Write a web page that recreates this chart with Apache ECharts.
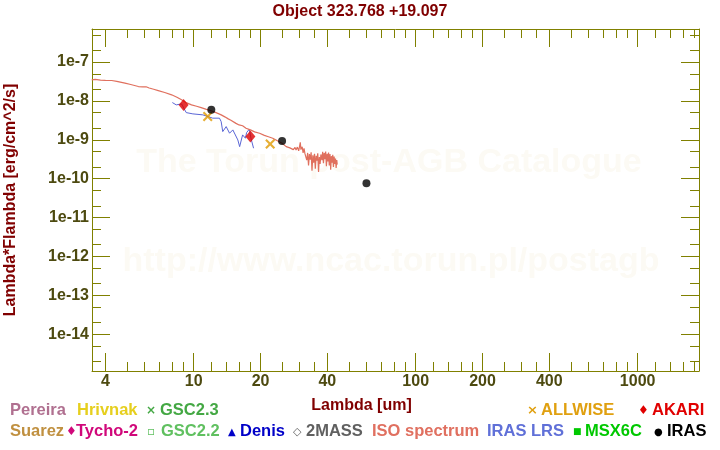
<!DOCTYPE html>
<html><head><meta charset="utf-8">
<script src="https://cdn.jsdelivr.net/npm/echarts@6/dist/echarts.min.js"></script>
<style>html,body{margin:0;padding:0;background:#fff}#c{width:720px;height:450px}</style>
</head><body><div id="c"></div>
<script>
// ---------- texts ----------
const titleText = 'Object 323.768 +19.097';
const xAxisName = 'Lambda [um]';
const yAxisName = 'Lambda*Flambda [erg/cm^2/s]';
const watermarkLines = ['The Torun post-AGB Catalogue', 'http://www.ncac.torun.pl/postagb'];
const legendRow1 = ['Pereira', 'Hrivnak', 'GSC2.3', 'ALLWISE', 'AKARI'];
const legendRow2 = ['Suarez', 'Tycho-2', 'GSC2.2', 'Denis', '2MASS', 'ISO spectrum', 'IRAS LRS', 'MSX6C', 'IRAS'];

// ---------- axes ----------
const xRange = [3.48, 1890];
const yRange = [1.13e-15, 7.1e-7];
const xMajorTicks = [4, 10, 20, 40, 100, 200, 400, 1000];
const xMinorTicks = [5, 6, 7, 8, 9, 12, 14, 16, 18, 25, 30, 35, 50, 60, 70, 80, 90,
  120, 140, 160, 180, 250, 300, 350, 500, 600, 700, 800, 900, 1200, 1400, 1600, 1800];
const yMajorTicks = [1e-14, 1e-13, 1e-12, 1e-11, 1e-10, 1e-9, 1e-8, 1e-7];
const yMinorTicks = [2e-15, 5e-15, 2e-14, 5e-14, 2e-13, 5e-13, 2e-12, 5e-12, 2e-11, 5e-11,
  2e-10, 5e-10, 2e-9, 5e-9, 2e-8, 5e-8, 2e-7, 5e-7];

// ---------- data ----------
const isoWave = [3.47, 3.6, 3.8, 4.0, 4.27, 4.5, 4.9, 5.2, 5.63, 5.9, 6.1, 6.3, 6.6, 6.92, 7.4, 7.95,
  8.4, 8.81, 9.3, 9.77, 10.3, 10.8, 11.4, 12.0, 12.6, 13.3, 13.8, 14.3, 14.7, 15.0, 15.5, 16.0,
  16.6, 17.2, 18.0, 18.8, 19.8, 20.8, 21.7, 22.7, 23.7, 25.0, 26.1, 26.6, 27.1, 27.6, 28.1, 28.6,
  28.9, 29.3, 29.7, 30.0, 30.2, 30.4, 30.8, 31.1, 31.4, 31.7, 32.0, 32.3, 32.6, 32.9, 33.2, 33.5,
  33.8, 34.1, 34.4, 34.7, 35.0, 35.3, 35.6, 35.9, 36.2, 36.5, 36.8, 37.1, 37.4, 37.8, 38.1, 38.4,
  38.7, 39.0, 39.3, 39.6, 39.9, 40.2, 40.5, 40.8, 41.1, 41.4, 41.7, 42.0, 42.3, 42.6, 42.9, 43.2,
  43.5, 43.8, 44.1, 44.3];
const isoFlux = [3.50e-8, 3.58e-8, 3.45e-8, 3.40e-8, 3.36e-8, 3.2e-8, 2.88e-8, 2.65e-8, 2.35e-8, 2.3e-8,
  2.32e-8, 2.15e-8, 2.0e-8, 1.85e-8, 1.65e-8, 1.44e-8, 1.25e-8, 1.07e-8, 8.9e-9, 7.94e-9, 7.3e-9,
  6.76e-9, 6.1e-9, 5.56e-9, 5.0e-9, 4.39e-9, 3.9e-9, 3.46e-9, 3.2e-9, 2.95e-9, 2.65e-9, 2.42e-9,
  2.3e-9, 1.99e-9, 1.8e-9, 1.6e-9, 1.48e-9, 1.3e-9, 1.2e-9, 1.10e-9, 9.6e-10, 8.2e-10, 6.7e-10,
  7.2e-10, 6.2e-10, 6.8e-10, 5.6e-10, 6.4e-10, 5.5e-10, 6.5e-10, 5.2e-10, 7.0e-10, 8.6e-10, 5.6e-10,
  6.6e-10, 4.6e-10, 6.0e-10, 4.4e-10, 4.1e-10, 3.0e-10, 4.6e-10, 2.2e-10, 4.3e-10, 3.1e-10, 4.8e-10,
  1.6e-10, 4.0e-10, 2.6e-10, 4.4e-10, 1.8e-10, 3.9e-10, 2.9e-10, 4.5e-10, 1.5e-10, 3.6e-10, 2.4e-10,
  4.2e-10, 3.0e-10, 4.9e-10, 2.5e-10, 4.6e-10, 3.2e-10, 5.0e-10, 2.1e-10, 4.4e-10, 2.8e-10, 4.7e-10,
  2.2e-10, 4.3e-10, 1.7e-10, 3.8e-10, 2.6e-10, 4.1e-10, 2.0e-10, 3.7e-10, 2.4e-10, 3.3e-10, 1.9e-10,
  3.0e-10, 2.3e-10];
const lrsWave = [8.01, 8.34, 8.81, 9.25, 9.91, 10.99, 12.18, 13.06, 13.29, 13.51, 14.0, 14.5, 15.0,
  15.8, 16.1, 16.6, 17.1, 17.3, 17.8, 18.1, 18.6];
const lrsFlux = [9.1e-9, 7.93e-9, 8.41e-9, 5.02e-9, 4.65e-9, 4.39e-9, 3.61e-9, 3.61e-9, 2.94e-9, 1.63e-9,
  2.19e-9, 1.48e-9, 1.80e-9, 9.93e-10, 6.68e-10, 1.34e-9, 1.10e-9, 1.53e-9, 1.88e-9, 1.10e-9, 6.08e-10];
const akariWave = [9, 18];
const akariFlux = [7.92e-9, 1.21e-9];
const allwiseWave = [11.56, 22.1];
const allwiseFlux = [3.96e-9, 7.83e-10];
const irasWave = [12, 25, 60];
const irasFlux = [5.9e-9, 9.38e-10, 7.6e-11];

// ---------- build ----------
const pairs = (a, b) => a.map((v, i) => [v, b[i]]);
const FONT = '"Liberation Sans", Arial, sans-serif';
const OLIVE = '#808000';
const TICKTXT = '#4d4a10';
const DARKRED = '#800000';

function xAxisDef(pos, ticks, len, withLabel, withLine) {
  return {
    type: 'log', min: xRange[0], max: xRange[1], position: pos,
    axisLine: { show: withLine, lineStyle: { color: OLIVE, width: 1 } },
    axisTick: { show: true, inside: true, length: len, customValues: ticks, lineStyle: { color: OLIVE, width: 1 } },
    axisLabel: withLabel ? { show: true, customValues: ticks, margin: 3, color: TICKTXT, fontWeight: 'bold',
      fontSize: 16, fontFamily: FONT, formatter: v => String(Math.round(v)) } : { show: false },
    minorTick: { show: false }, splitLine: { show: false }
  };
}
function yAxisDef(pos, ticks, len, withLabel, withLine) {
  return {
    type: 'log', min: yRange[0], max: yRange[1], position: pos,
    axisLine: { show: withLine, lineStyle: { color: OLIVE, width: 1 } },
    axisTick: { show: true, inside: true, length: len, customValues: ticks, lineStyle: { color: OLIVE, width: 1 } },
    axisLabel: withLabel ? { show: true, customValues: ticks, margin: 3, color: TICKTXT, fontWeight: 'bold',
      fontSize: 16, fontFamily: FONT, formatter: v => '1e' + Math.round(Math.log10(v)) } : { show: false },
    minorTick: { show: false }, splitLine: { show: false }
  };
}

const xAxes = [
  xAxisDef('bottom', xMajorTicks, 18, true, true),
  xAxisDef('bottom', xMinorTicks, 9, false, false),
  xAxisDef('top', xMajorTicks, 18, false, true),
  xAxisDef('top', xMinorTicks, 9, false, false)
];
xAxes[0].name = xAxisName;
xAxes[0].nameLocation = 'middle';
xAxes[0].nameGap = 27;
xAxes[0].nameTextStyle = { color: DARKRED, fontWeight: 'bold', fontSize: 16, fontFamily: FONT, padding: [0, 68, 0, 0] };

const yAxes = [
  yAxisDef('left', yMajorTicks, 18, true, true),
  yAxisDef('left', yMinorTicks, 9, false, false),
  yAxisDef('right', yMajorTicks, 18, false, true),
  yAxisDef('right', yMinorTicks, 9, false, false)
];
yAxes[0].name = yAxisName;
yAxes[0].nameLocation = 'middle';
yAxes[0].nameRotate = 90;
yAxes[0].nameGap = 73;
yAxes[0].nameTextStyle = { color: DARKRED, fontWeight: 'bold', fontSize: 16, fontFamily: FONT };

// legend (catalogue key, laid out as in the reference)
const legendStyle1 = [
  { color: '#b07090', x: 10 },
  { color: '#e6cf1e', x: 77 },
  { color: '#44a844', x: 160, glyph: '×', gx: 146, gs: 12 },
  { color: '#e0a010', x: 541, glyph: '×', gx: 527, gs: 13 },
  { color: '#e00000', x: 652, glyph: '♦', gx: 638, gs: 12 }
];
const legendStyle2 = [
  { color: '#c09040', x: 10 },
  { color: '#d0087a', x: 76, glyph: '♦', gx: 66, gs: 12 },
  { color: '#60c060', x: 161, glyph: '▫', gx: 147, gs: 12 },
  { color: '#0000c8', x: 240, glyph: '▲', gx: 228, gs: 10 },
  { color: '#606060', x: 306, glyph: '◇', gx: 293, gs: 11 },
  { color: '#e07060', x: 372 },
  { color: '#6070d8', x: 487 },
  { color: '#00c800', x: 585, glyph: '■', gx: 573, gs: 9 },
  { color: '#000000', x: 667, glyph: '●', gx: 654, gs: 10 }
];
const graphics = [];
function addRow(labels, styles, cy) {
  labels.forEach((lab, i) => {
    const s = styles[i];
    graphics.push({ type: 'text', x: s.x, y: cy, z: 10,
      style: { text: lab, fill: s.color, font: 'bold 16.5px ' + FONT, textVerticalAlign: 'middle' } });
    if (s.glyph) {
      graphics.push({ type: 'text', x: s.gx, y: cy + 1, z: 10,
        style: { text: s.glyph, fill: s.color, font: 'bold ' + s.gs + 'px "DejaVu Sans", sans-serif', textVerticalAlign: 'middle' } });
    }
  });
}
addRow(legendRow1, legendStyle1, 410);
addRow(legendRow2, legendStyle2, 431);
graphics.push({ type: 'text', x: 389, y: 163, z: 0, silent: true,
  style: { text: watermarkLines[0], fill: '#fcfaf4', font: 'bold 34px ' + FONT, textAlign: 'center', textVerticalAlign: 'middle' } });
graphics.push({ type: 'text', x: 391, y: 262, z: 0, silent: true,
  style: { text: watermarkLines[1], fill: '#fcfaf4', font: 'bold 34px ' + FONT, textAlign: 'center', textVerticalAlign: 'middle' } });

const crossPath = 'path://M0,1.5L1.5,0L5,3.5L8.5,0L10,1.5L6.5,5L10,8.5L8.5,10L5,6.5L1.5,10L0,8.5L3.5,5Z';

const option = {
  animation: false,
  backgroundColor: '#ffffff',
  title: { text: titleText, left: 'center', top: 4, padding: 0,
    textStyle: { color: DARKRED, fontWeight: 'bold', fontSize: 16, fontFamily: FONT } },
  grid: { left: 92, right: 21, top: 29, bottom: 79, show: false, containLabel: false, outerBoundsMode: 'none' },
  xAxis: xAxes,
  yAxis: yAxes,
  graphic: graphics,
  series: [
    { name: 'ISO spectrum', type: 'line', data: pairs(isoWave, isoFlux), showSymbol: false, symbol: 'none',
      lineStyle: { color: '#e0705e', width: 1.2 }, z: 3 },
    { name: 'IRAS LRS', type: 'line', data: pairs(lrsWave, lrsFlux), showSymbol: false, symbol: 'none',
      lineStyle: { color: '#5a66d6', width: 1 }, z: 2 },
    { name: 'AKARI', type: 'scatter', data: pairs(akariWave, akariFlux), symbol: 'diamond', symbolSize: [10, 12],
      itemStyle: { color: '#dd0000' }, z: 5 },
    { name: 'ALLWISE', type: 'scatter', data: pairs(allwiseWave, allwiseFlux), symbol: crossPath, symbolSize: 10,
      itemStyle: { color: '#e09a00' }, z: 5 },
    { name: 'IRAS', type: 'scatter', data: pairs(irasWave, irasFlux), symbol: 'circle', symbolSize: 8,
      itemStyle: { color: '#000000' }, z: 6 }
  ]
};
const chart = echarts.init(document.getElementById('c'), null, { renderer: 'canvas' });
chart.setOption(option);
</script></body></html>
